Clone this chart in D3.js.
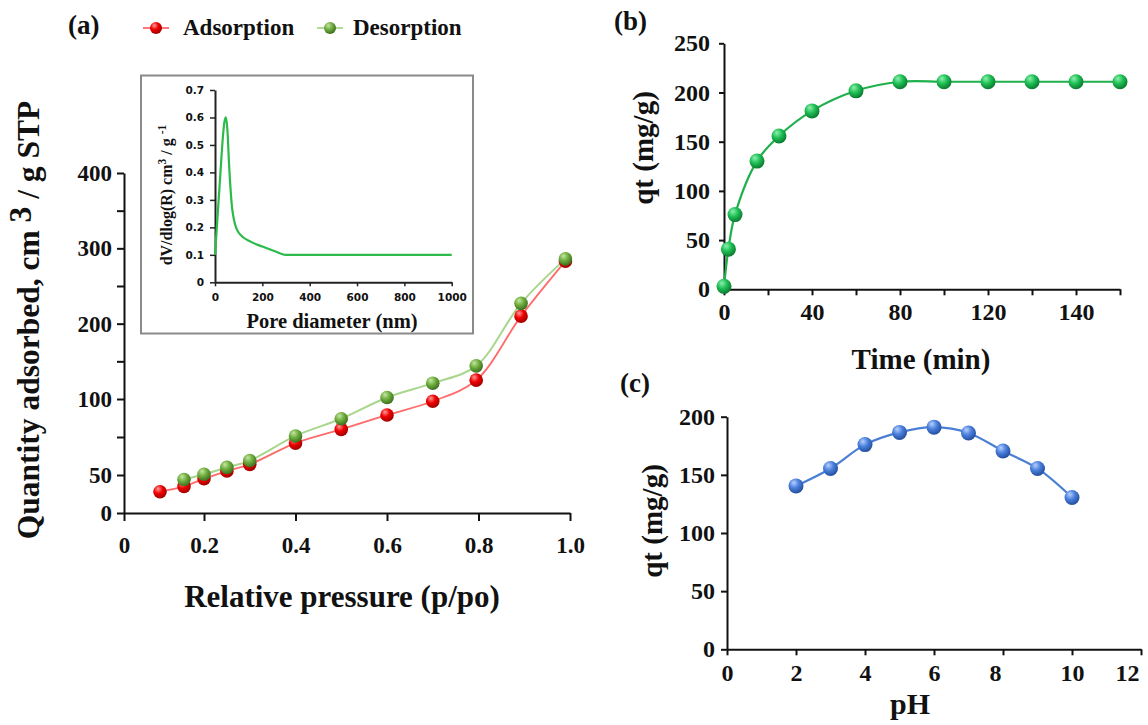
<!DOCTYPE html>
<html><head><meta charset="utf-8">
<script src="https://cdn.jsdelivr.net/npm/d3@7"></script>
<style>
body{margin:0;background:#fff}
svg{display:block}
text{font-family:"Liberation Serif","Times New Roman",serif;font-weight:bold;fill:#111}
</style></head><body>
<svg id="c" width="1148" height="725"></svg>
<script>
// ---------- Panel (a): N2 isotherm ----------
const pressureAds = [0.09, 0.15, 0.2, 0.25, 0.3, 0.4, 0.5, 0.6, 0.7, 0.795, 0.893, 0.99];
const adsorption  = [28, 35, 45, 52.6, 57, 71, 80, 89.5, 98.5, 125, 210, 283];
const pressureDes = [0.15, 0.2, 0.25, 0.3, 0.4, 0.5, 0.6, 0.7, 0.795, 0.893, 0.99];
const desorption  = [44, 50.5, 55, 59.5, 75.7, 87, 102, 121, 144, 227, 286];
const aXTicks  = [0, 0.2, 0.4, 0.6, 0.8, 1.0];
const aXLabels = ["0", "0.2", "0.4", "0.6", "0.8", "1.0"];
const aYTicks  = [0, 50, 75, 100, 150, 200, 250, 300, 350, 400];
const aYLabels = ["0", "50", "", "100", "", "200", "", "300", "", "400"];
// inset: pore size distribution
const poreDiameter = [0, 20, 40, 46, 52, 60, 70, 85, 105, 150, 200, 250, 300, 1000];
const poreVolume   = [0.1, 0.36, 0.585, 0.6, 0.56, 0.42, 0.29, 0.21, 0.175, 0.148, 0.13, 0.114, 0.1, 0.1];
const inXTicks = [0, 200, 400, 600, 800, 1000];
const inYTicks = [0, 0.1, 0.2, 0.3, 0.4, 0.5, 0.6, 0.7];
// ---------- Panel (b): kinetics ----------
const timeMin = [0, 2, 5, 15, 25, 40, 60, 80, 100, 120, 140, 160, 180];
const qtTime  = [3, 40.8, 75.9, 130.3, 155.8, 181.3, 201.7, 210.9, 210.9, 210.9, 210.9, 210.9, 210.9];
const bXTicks = [0, 20, 40, 60, 80, 100, 120, 140, 160, 180];
const bXLabelValues = [0, 40, 80, 120, 160];
const bXLabels = ["0", "40", "80", "120", "140"];
const bYTicks = [0, 50, 100, 150, 200, 250];
// ---------- Panel (c): pH effect ----------
const pH   = [2, 3, 4, 5, 6, 7, 8, 9, 10];
const qtPH = [140.5, 155.5, 176, 186.5, 191, 186, 170.5, 155.5, 130.5];
const cXTicks = [0, 2, 4, 6, 8, 10, 12];
const cYTicks = [0, 50, 100, 150, 200];

const svg = d3.select("#c");
const defs = svg.append("defs");
function sphere(id, light, mid, dark){
  const g = defs.append("radialGradient").attr("id", id)
    .attr("cx","40%").attr("cy","35%").attr("r","65%").attr("fx","35%").attr("fy","28%");
  g.append("stop").attr("offset","0%").attr("stop-color",light);
  g.append("stop").attr("offset","50%").attr("stop-color",mid);
  g.append("stop").attr("offset","100%").attr("stop-color",dark);
}
sphere("gRed", "#ff9a9a", "#f00000", "#a00000");
sphere("gGreenA", "#c6e6a6", "#6fae3e", "#3e6e20");
sphere("gGreenB", "#8ff0b0", "#1fc055", "#0b7a30");
sphere("gBlue", "#b8d0ff", "#4a80dc", "#244ea0");

function styleAxis(g, fs){
  g.select(".domain").attr("stroke","#111").attr("stroke-width",2);
  g.selectAll(".tick line").attr("stroke","#111").attr("stroke-width",2);
  g.attr("font-family", null).attr("font-size", null);
  g.selectAll("text").attr("font-size", fs).attr("fill","#111");
}
function marks(data, x, y, r, fill){
  svg.append("g").selectAll("circle").data(data).join("circle")
    .attr("cx", d => x(d[0])).attr("cy", d => y(d[1])).attr("r", r)
    .attr("fill", `url(#${fill})`);
}

// ===== Panel (a) =====
const xA = d3.scaleLinear().domain([0, 0.2, 1]).range([124, 204, 570]);
const yA = d3.scaleLinear().domain([0, 50, 100, 400]).range([513, 475, 399, 173]);
const gxA = svg.append("g").attr("transform","translate(0,513)")
  .call(d3.axisBottom(xA).tickValues(aXTicks).tickFormat((d,i)=>aXLabels[i]).tickSize(8).tickSizeOuter(0));
styleAxis(gxA, 23);
gxA.selectAll("text").attr("y", 40).attr("dy", 0);
const gyA = svg.append("g").attr("transform","translate(124,0)")
  .call(d3.axisLeft(yA).tickValues(aYTicks).tickFormat((d,i)=>aYLabels[i]).tickSize(7).tickSizeOuter(0));
styleAxis(gyA, 23);
gyA.selectAll("text").attr("x", -12);

const lineA = d3.line().x(d=>xA(d[0])).y(d=>yA(d[1])).curve(d3.curveCatmullRom.alpha(0.5));
const adsPts = pressureAds.map((p,i)=>[p, adsorption[i]]);
const desPts = pressureDes.map((p,i)=>[p, desorption[i]]);
svg.append("path").attr("d", lineA(desPts)).attr("fill","none").attr("stroke","#a8d68c").attr("stroke-width",2);
svg.append("path").attr("d", lineA(adsPts)).attr("fill","none").attr("stroke","#ff6a6a").attr("stroke-width",1.8);
marks(adsPts, xA, yA, 6.8, "gRed");
marks(desPts, xA, yA, 6.8, "gGreenA");

svg.append("text").attr("x",68).attr("y",34).attr("font-size",27).text("(a)");
// legend
svg.append("line").attr("x1",143).attr("x2",169).attr("y1",28).attr("y2",28).attr("stroke","#ff6a6a").attr("stroke-width",1.8);
svg.append("circle").attr("cx",156).attr("cy",28).attr("r",6).attr("fill","url(#gRed)");
svg.append("text").attr("x",183).attr("y",35).attr("font-size",23).text("Adsorption");
svg.append("line").attr("x1",317).attr("x2",343).attr("y1",28).attr("y2",28).attr("stroke","#a8d68c").attr("stroke-width",1.8);
svg.append("circle").attr("cx",330).attr("cy",28).attr("r",6).attr("fill","url(#gGreenA)");
svg.append("text").attr("x",353).attr("y",35).attr("font-size",23).text("Desorption");

svg.append("text").attr("x",342).attr("y",607).attr("text-anchor","middle").attr("font-size",31)
  .text("Relative pressure (p/po)");
const tA = svg.append("text").attr("transform","translate(39,320) rotate(-90)").attr("text-anchor","middle").attr("font-size",31.5);
tA.append("tspan").text("Quantity adsorbed, cm ");
tA.append("tspan").attr("dy",-8).text("3");
tA.append("tspan").attr("dy",8).text(" / g STP");

// ----- inset -----
svg.append("rect").attr("x",141).attr("y",75.5).attr("width",332).attr("height",258)
  .attr("fill","#fff").attr("stroke","#8a8a8a").attr("stroke-width",2);
const xI = d3.scaleLinear().domain([0,1000]).range([215, 451.7]);
const yI = d3.scaleLinear().domain([0,0.7]).range([282.3, 90]);
const gxI = svg.append("g").attr("transform","translate(0,282.3)")
  .call(d3.axisBottom(xI).tickValues(inXTicks).tickFormat(d3.format("d")).tickSize(4).tickSizeOuter(0));
const gyI = svg.append("g").attr("transform","translate(215,0)")
  .call(d3.axisLeft(yI).tickValues(inYTicks).tickFormat(d=> d===0 ? "0" : d3.format(".1f")(d)).tickSize(5).tickSizeOuter(0));
[gxI, gyI].forEach(g=>{
  g.select(".domain").attr("stroke","#222").attr("stroke-width",2);
  g.selectAll(".tick line").attr("stroke","#222").attr("stroke-width",1.5);
  g.attr("font-family", null).attr("font-size", null);
  g.selectAll("text").attr("font-size",10.5).attr("fill","#3a3a3a")
    .style("font-family","'DejaVu Sans',Verdana,sans-serif");
});
gxI.selectAll("text").attr("y",11).attr("dy","0.71em");
gyI.selectAll("text").attr("x",-11);
svg.append("path").attr("d", d3.line().x(d=>xI(d[0])).y(d=>yI(d[1])).curve(d3.curveMonotoneX)(poreDiameter.map((p,i)=>[p,poreVolume[i]])))
  .attr("fill","none").attr("stroke","#2cba4a").attr("stroke-width",2.2);
svg.append("text").attr("x",332).attr("y",328).attr("text-anchor","middle").attr("font-size",20.5).text("Pore diameter (nm)");
const tI = svg.append("text").attr("transform","translate(172,195) rotate(-90)").attr("text-anchor","middle").attr("font-size",16);
tI.append("tspan").text("dV/dlog(R) cm");
tI.append("tspan").attr("dy",-6).attr("font-size",11.5).text("3");
tI.append("tspan").attr("dy",6).text(" / g ");
tI.append("tspan").attr("dy",-6).attr("font-size",11.5).text("-1");

// ===== Panel (b) =====
const xB = d3.scaleLinear().domain([0,180]).range([724,1120]);
const yB = d3.scaleLinear().domain([0,250]).range([289.3,43.3]);
const gxB = svg.append("g").attr("transform","translate(0,289.3)")
  .call(d3.axisBottom(xB).tickValues(bXTicks).tickFormat(d=>{const i=bXLabelValues.indexOf(d); return i<0?"":bXLabels[i];}).tickSize(6).tickSizeOuter(0));
styleAxis(gxB, 24);
gxB.selectAll("text").attr("y",31).attr("dy",0);
const gyB = svg.append("g").attr("transform","translate(724,0)")
  .call(d3.axisLeft(yB).tickValues(bYTicks).tickSize(5).tickSizeOuter(0));
styleAxis(gyB, 24);
gyB.selectAll("text").attr("x",-14);
const bPts = timeMin.map((t,i)=>[t, qtTime[i]]);
svg.append("path").attr("d", d3.line().x(d=>xB(d[0])).y(d=>yB(d[1])).curve(d3.curveCatmullRom.alpha(0.5))(bPts))
  .attr("fill","none").attr("stroke","#1fb04c").attr("stroke-width",2.2);
marks(bPts, xB, yB, 7.5, "gGreenB");
svg.append("text").attr("x",614).attr("y",30).attr("font-size",27).text("(b)");
svg.append("text").attr("x",921).attr("y",369).attr("text-anchor","middle").attr("font-size",29).text("Time (min)");
svg.append("text").attr("transform","translate(653,148) rotate(-90)").attr("text-anchor","middle").attr("font-size",29).text("qt (mg/g)");

// ===== Panel (c) =====
const xC = d3.scaleLinear().domain([0,12]).range([727,1141]);
const yC = d3.scaleLinear().domain([0,200]).range([649.3,416.7]);
const gxC = svg.append("g").attr("transform","translate(0,649.3)")
  .call(d3.axisBottom(xC).tickValues(cXTicks).tickSize(6).tickSizeOuter(0));
styleAxis(gxC, 24);
gxC.selectAll("text").attr("y",32).attr("dy",0);
gxC.selectAll(".tick").filter(d => d === 12).select("text").attr("dx", -14);
gxC.selectAll(".tick").filter(d => d === 8).select("text").attr("dx", -8);
const gyC = svg.append("g").attr("transform","translate(727,0)")
  .call(d3.axisLeft(yC).tickValues(cYTicks).tickSize(6).tickSizeOuter(0));
styleAxis(gyC, 24);
gyC.selectAll("text").attr("x",-12);
const cPts = pH.map((p,i)=>[p, qtPH[i]]);
svg.append("path").attr("d", d3.line().x(d=>xC(d[0])).y(d=>yC(d[1])).curve(d3.curveCatmullRom.alpha(0.5))(cPts))
  .attr("fill","none").attr("stroke","#4a7fd4").attr("stroke-width",2.2);
marks(cPts, xC, yC, 7.5, "gBlue");
svg.append("text").attr("x",620).attr("y",392).attr("font-size",27).text("(c)");
svg.append("text").attr("x",910).attr("y",714).attr("text-anchor","middle").attr("font-size",30).text("pH");
svg.append("text").attr("transform","translate(662,521) rotate(-90)").attr("text-anchor","middle").attr("font-size",29).text("qt (mg/g)");
</script>
</body></html>
